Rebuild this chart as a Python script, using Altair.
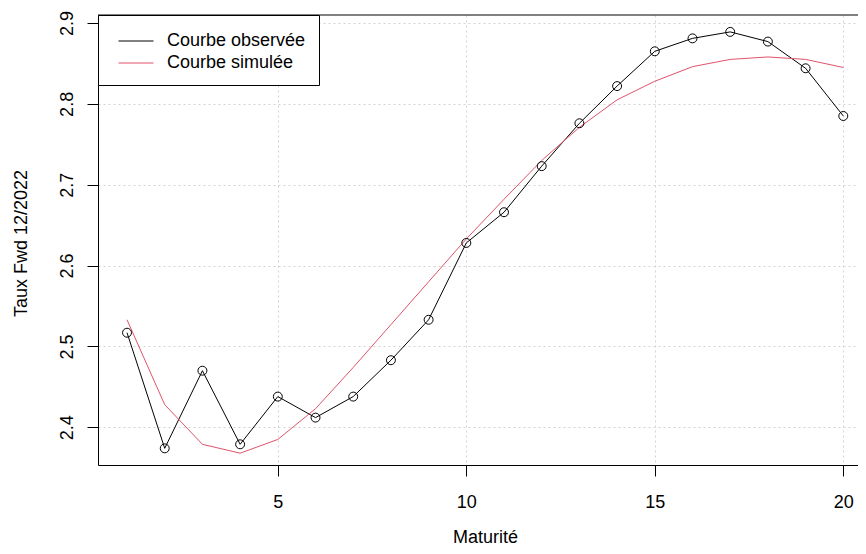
import altair as alt
import pandas as pd

maturite = list(range(1, 21))
observee = [2.517, 2.374, 2.470, 2.379, 2.438, 2.412, 2.438, 2.483, 2.533, 2.628,
            2.666, 2.723, 2.776, 2.822, 2.865, 2.881, 2.889, 2.877, 2.844, 2.785]
simulee = [2.533, 2.428, 2.379, 2.368, 2.385, 2.423, 2.474, 2.527, 2.580, 2.633,
           2.682, 2.730, 2.771, 2.805, 2.828, 2.846, 2.855, 2.858, 2.855, 2.845]
series_names = ["Courbe observée", "Courbe simulée"]
series_colors = ["#000000", "#DF536B"]
x_ticks = [5, 10, 15, 20]
y_ticks = [2.4, 2.5, 2.6, 2.7, 2.8, 2.9]

df = pd.DataFrame({
    "Maturité": maturite * 2,
    "Taux": observee + simulee,
    "Courbe": [series_names[0]] * len(maturite) + [series_names[1]] * len(maturite),
})
obs = pd.DataFrame({"Maturité": maturite, "Taux": observee})

W, H = 760, 450
FONT = "Liberation Sans"

x_enc = alt.X(
    "Maturité:Q",
    scale=alt.Scale(domain=[0.23, 20.39], nice=False, zero=False),
    axis=alt.Axis(values=x_ticks, title="Maturité", tickSize=11, labelPadding=17,
                  labelBaseline="top", titleBaseline="alphabetic", titleY=77,
                  titleX=387, titleAnchor="middle", grid=True),
)
y_enc = alt.Y(
    "Taux:Q",
    scale=alt.Scale(domain=[2.3534, 2.9099], nice=False, zero=False),
    axis=alt.Axis(values=y_ticks, format=".1f", title="Taux Fwd 12/2022", tickSize=11,
                  labelAngle=270, labelAlign="center", labelBaseline="alphabetic",
                  labelPadding=15, titleAngle=270, titleAlign="center",
                  titleBaseline="alphabetic", titleX=-72, titleY=228, grid=True),
)

lines = alt.Chart(df).mark_line(strokeWidth=1).encode(
    x=x_enc,
    y=y_enc,
    color=alt.Color(
        "Courbe:N",
        scale=alt.Scale(domain=series_names, range=series_colors),
        legend=alt.Legend(title=" ", titleFontSize=1, titlePadding=3,
                          orient="top-left", offset=0, padding=13,
                          symbolOffset=16, strokeColor="black", fillColor="white",
                          symbolType="M-3.5,0H3.5", symbolSize=100, symbolStrokeWidth=1,
                          labelFontSize=18, labelFont=FONT, labelColor="black",
                          labelOffset=22, rowPadding=4),
    ),
    order=alt.Order("Maturité:Q"),
)

points = alt.Chart(obs).mark_point(shape="circle", filled=False, size=80, color="black",
                                   strokeWidth=1, opacity=1).encode(
    x=alt.X("Maturité:Q"),
    y=alt.Y("Taux:Q"),
)

frame_top = alt.Chart(pd.DataFrame({"k": [0]})).mark_rule(color="black", strokeWidth=1).encode(
    x=alt.value(0), x2=alt.value(W), y=alt.value(0)
)

chart = alt.layer(lines, points, frame_top).properties(
    width=W,
    height=H,
    padding={"left": 90, "top": 7, "right": 0, "bottom": 81},
    autosize=alt.AutoSizeParams(type="none"),
    background="white",
).configure_view(
    strokeWidth=0
).configure_axis(
    domainColor="black", tickColor="black", labelColor="black", titleColor="black",
    labelFont=FONT, titleFont=FONT, labelFontSize=18, titleFontSize=18,
    titleFontWeight="normal", gridColor="#d3d3d3", gridDash=[2, 3], gridWidth=1,
    domainWidth=1, tickWidth=1,
)

chart.save("out.html", embed_options={"renderer": "svg", "actions": False})
